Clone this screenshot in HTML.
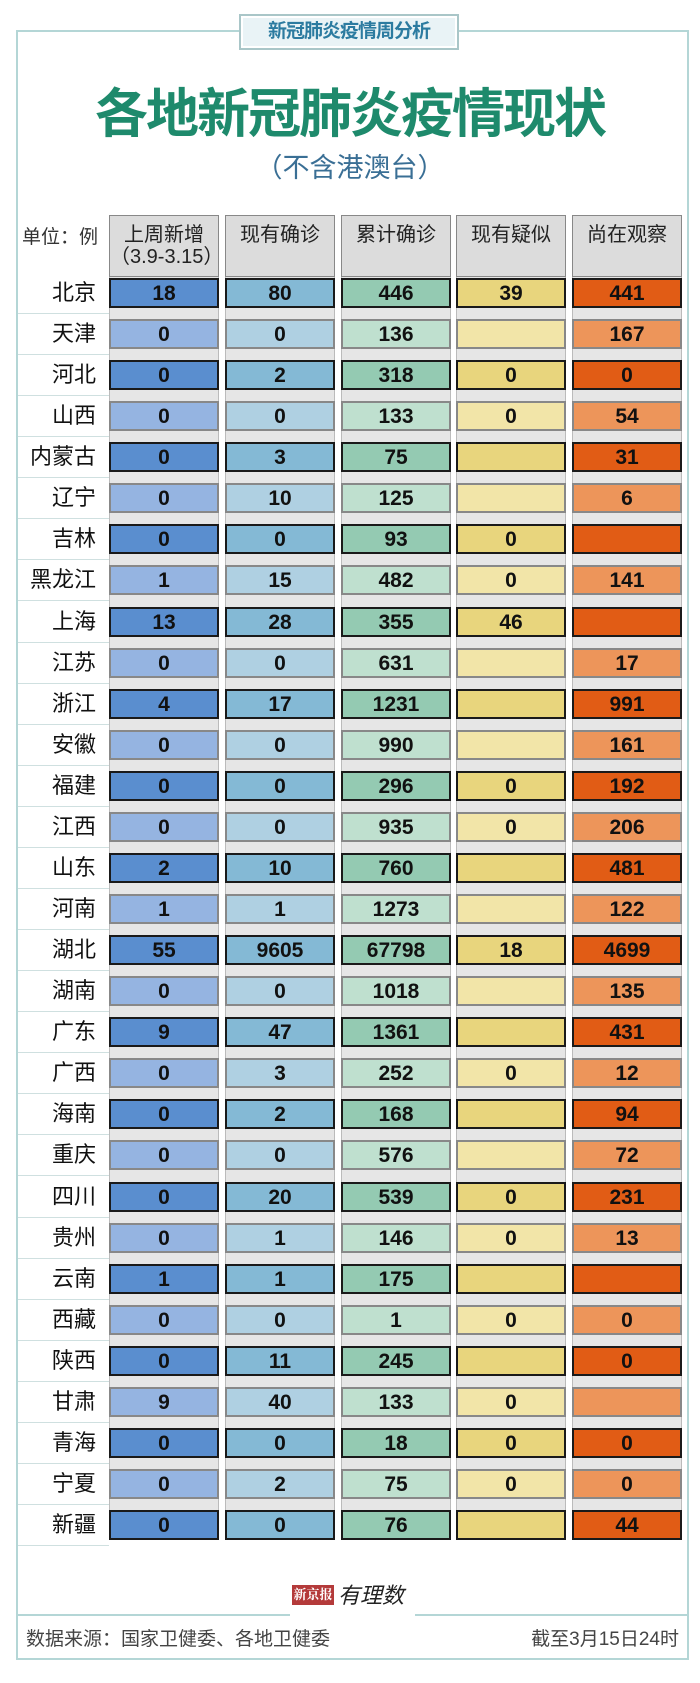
<!DOCTYPE html>
<html><head><meta charset="utf-8">
<style>
*{margin:0;padding:0;box-sizing:border-box}
body{width:700px;height:1683px;background:#fff;position:relative;overflow:hidden;font-family:"Liberation Sans","Noto Sans CJK SC",sans-serif}
.a{position:absolute}
.frame{left:16px;top:30px;width:673px;height:1630px;border:2px solid #b4d6d6}
.tbox{left:239px;top:14px;width:220px;height:36px;border:2px solid #a9c6c8;background:#fff;padding:2px}
.tbox div{width:100%;height:100%;background:#e9f3f6;color:#2c7ba0;font-weight:bold;font-size:19px;text-align:center;line-height:28px;letter-spacing:-1px}
.title{left:0;width:700px;top:72px;text-align:center;font-size:53px;font-weight:bold;color:#1e8a6c;letter-spacing:-2px}
.sub{left:0;width:700px;top:146px;text-align:center;font-size:27px;color:#3a6f95}
.col{top:215px;width:110px;height:1325px;background:#e6e6e6;border-left:1px solid #bbb;border-right:1px solid #bbb}
.hd{top:215px;width:110px;height:62px;background:#dcdcdc;border:1px solid #888;text-align:center;font-size:20px;line-height:22px;padding-top:8px;color:#222}
.unit{left:22px;top:222px;font-size:19px;color:#333}
.lab{left:16px;width:80px;text-align:right;font-size:22px;color:#111;height:30px;line-height:30px}
.ln{left:18px;width:91px;height:1px;background:#cfe0e0}
.c{width:110px;height:30px;text-align:center;font-weight:bold;font-size:21px;line-height:28px;color:#111}
.d{border:2px solid #1a1a1a}
.l{border:2px solid #888}
.foot{top:1624px;font-size:19px;color:#444}
.fl{top:1614px;height:2px;background:#b4d6d6}
</style></head><body>
<div class="a frame"></div>
<div class="a tbox"><div>新冠肺炎疫情周分析</div></div>
<div class="a title">各地新冠肺炎疫情现状</div>
<div class="a sub">（不含港澳台）</div>
<div class="a unit">单位：例</div>
<div class="a col" style="left:109px"></div>
<div class="a col" style="left:225px"></div>
<div class="a col" style="left:341px"></div>
<div class="a col" style="left:456px"></div>
<div class="a col" style="left:572px"></div>
<div class="a hd" style="left:109px">上周新增<br>（3.9-3.15）</div>
<div class="a hd" style="left:225px">现有确诊</div>
<div class="a hd" style="left:341px">累计确诊</div>
<div class="a hd" style="left:456px">现有疑似</div>
<div class="a hd" style="left:572px">尚在观察</div>
<div id="rows"></div>
<div class="a fl" style="left:18px;width:272px"></div>
<div class="a fl" style="left:415px;width:272px"></div>
<div class="a" style="left:292px;top:1585px;width:42px;height:20px;background:#b43a3a;color:#fff;font-size:13px;font-weight:bold;line-height:20px;text-align:center;font-family:'Liberation Serif','Noto Serif CJK SC',serif">新京报</div>
<div class="a" style="left:338px;top:1578px;font-size:22px;font-style:italic;color:#222">有理数</div>
<div class="a foot" style="left:26px">数据来源：国家卫健委、各地卫健委</div>
<div class="a foot" style="right:21px">截至3月15日24时</div>
<script>
var d=[["北京","18","80","446","39","441"],["天津","0","0","136","","167"],["河北","0","2","318","0","0"],["山西","0","0","133","0","54"],["内蒙古","0","3","75","","31"],["辽宁","0","10","125","","6"],["吉林","0","0","93","0",""],["黑龙江","1","15","482","0","141"],["上海","13","28","355","46",""],["江苏","0","0","631","","17"],["浙江","4","17","1231","","991"],["安徽","0","0","990","","161"],["福建","0","0","296","0","192"],["江西","0","0","935","0","206"],["山东","2","10","760","","481"],["河南","1","1","1273","","122"],["湖北","55","9605","67798","18","4699"],["湖南","0","0","1018","","135"],["广东","9","47","1361","","431"],["广西","0","3","252","0","12"],["海南","0","2","168","","94"],["重庆","0","0","576","","72"],["四川","0","20","539","0","231"],["贵州","0","1","146","0","13"],["云南","1","1","175","",""],["西藏","0","0","1","0","0"],["陕西","0","11","245","","0"],["甘肃","9","40","133","0",""],["青海","0","0","18","0","0"],["宁夏","0","2","75","0","0"],["新疆","0","0","76","","44"]];
var X=[109,225,341,456,572];
var dk=["#5a8ecf","#84b9d5","#94cab2","#e8d57d","#e15c15"];
var lt=["#95b4e1","#afd0e2","#bfe0cf","#f2e5a8","#ed955a"];
var h="";
for(var i=0;i<d.length;i++){var y=278+i*41.07;var dark=i%2==0;
h+='<div class="a lab" style="top:'+y+'px">'+d[i][0]+'</div>';
h+='<div class="a ln" style="top:'+(y+35)+'px"></div>';
for(var j=0;j<5;j++){h+='<div class="a c '+(dark?'d':'l')+'" style="left:'+X[j]+'px;top:'+y+'px;background:'+(dark?dk[j]:lt[j])+'">'+d[i][j+1]+'</div>';}}
document.getElementById("rows").innerHTML=h;
</script>
</body></html>
